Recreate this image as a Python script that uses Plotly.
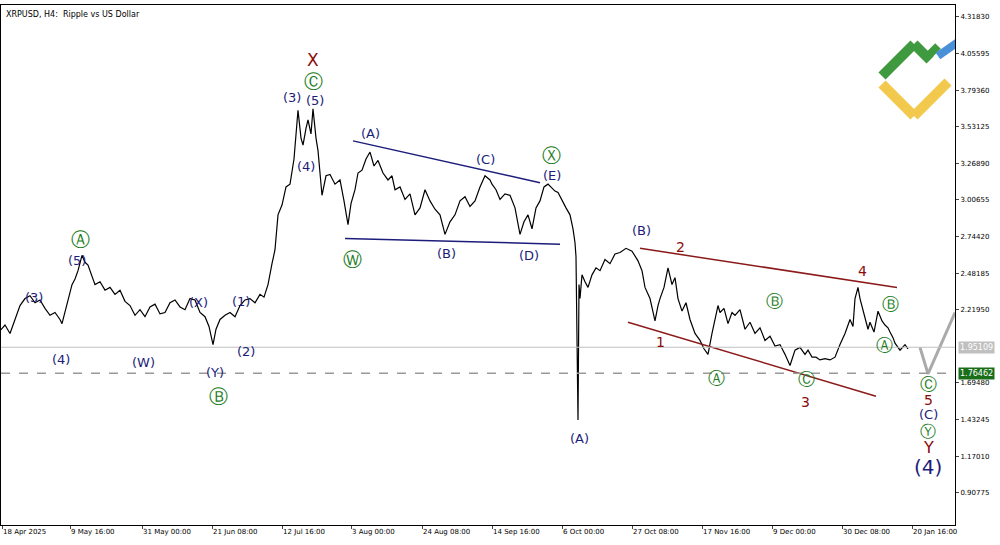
import plotly.graph_objects as go

# price path (x = bar position, y = price)
xs = [0,5,10,15,20,25,30,35,40,45,50,55,60,62,65,68,72,75,78,82,85,88,92,95,100,105,110,115,120,125,130,135,140,145,150,155,160,165,170,175,180,185,190,195,200,205,209,213,216,220,225,230,235,240,245,250,255,260,264,268,272,275,278,282,286,290,294,298,301,303,306,308,311,313,316,318,320,322,326,330,335,340,344,348,351,355,358,362,366,370,374,378,383,388,392,395,400,405,410,415,420,425,430,435,440,445,450,455,460,465,470,475,480,485,490,492,496,500,505,510,515,520,524,528,532,536,540,544,548,552,555,558,562,566,570,573,575,576,578,579,580,582,585,588,592,596,600,605,610,615,620,626,632,638,642,645,650,655,658,660,664,668,672,675,678,682,686,690,695,700,704,708,712,715,718,720,724,728,732,735,740,745,750,755,760,765,770,775,780,785,790,795,800,805,808,812,816,820,825,830,835,840,845,850,853,855,858,860,863,866,868,870,874,878,882,885,888,890,893,895,900,905,908,910,913,915,918,920]
prices = [2.07,2.11,2.05,2.15,2.25,2.30,2.32,2.27,2.29,2.23,2.18,2.20,2.15,2.12,2.20,2.30,2.40,2.44,2.50,2.61,2.56,2.54,2.45,2.40,2.42,2.36,2.38,2.33,2.36,2.28,2.25,2.18,2.22,2.17,2.24,2.26,2.19,2.20,2.27,2.29,2.24,2.22,2.30,2.29,2.20,2.17,2.10,1.97,2.08,2.15,2.18,2.20,2.17,2.25,2.29,2.30,2.27,2.33,2.31,2.40,2.55,2.65,2.90,2.97,3.10,3.12,3.30,3.65,3.45,3.40,3.52,3.58,3.48,3.66,3.45,3.36,3.20,3.04,3.18,3.19,3.12,3.15,3.00,2.83,2.98,3.08,3.20,3.22,3.30,3.35,3.25,3.29,3.20,3.15,3.18,3.08,3.10,3.01,3.05,2.90,2.95,3.08,3.00,2.94,2.90,2.76,2.85,2.90,3.00,3.03,2.96,3.00,3.10,3.18,3.15,3.12,3.08,3.01,3.05,3.04,2.95,2.76,2.85,2.90,2.80,2.95,3.00,3.10,3.12,3.09,3.07,3.06,3.00,2.95,2.90,2.80,2.70,2.60,1.43,2.40,2.30,2.47,2.42,2.38,2.47,2.52,2.50,2.58,2.55,2.62,2.63,2.66,2.64,2.57,2.50,2.38,2.30,2.14,2.25,2.30,2.38,2.52,2.40,2.45,2.30,2.21,2.27,2.15,2.05,2.00,1.94,1.90,2.05,2.15,2.25,2.20,2.23,2.12,2.20,2.18,2.22,2.08,2.13,2.05,2.09,2.00,2.03,1.96,1.97,1.90,1.82,1.93,1.95,1.90,1.93,1.88,1.88,1.86,1.87,1.86,1.88,1.97,2.05,2.15,2.10,2.30,2.38,2.30,2.22,2.12,2.08,2.13,2.06,2.21,2.14,2.11,2.09,2.06,2.02,1.98,1.93,1.97,1.94]

proj_x = [920, 928, 955]
proj_y = [1.95, 1.76, 2.20]

tick_pos = [2,70,142,212,282,351,422,492,562,632,702,772,842,912]
tick_text = ["18 Apr 2025","9 May 16:00","31 May 00:00","21 Jun 08:00","12 Jul 16:00","3 Aug 00:00",
             "24 Aug 08:00","14 Sep 16:00","6 Oct 00:00","27 Oct 08:00","17 Nov 16:00","9 Dec 00:00",
             "30 Dec 08:00","20 Jan 16:00"]
ytick_vals = [0.90775,1.17010,1.43245,1.69480,2.21950,2.48185,2.74420,3.00655,3.26890,3.53125,3.79360,4.05595,4.31830]

current_price = 1.95109
target_price = 1.76462

NAVY = "#1c1c7a"; GREEN = "#1e7d1e"; RED = "#8b0a0a"
C = 19  # circled label size
labels = [
    (313,4.007,"X",RED,17),(313,3.86,"Ⓒ",GREEN,C),
    (292,3.74,"(3)",NAVY,13),(315,3.72,"(5)",NAVY,13),(306,3.25,"(4)",NAVY,13),
    (80,2.73,"Ⓐ",GREEN,C),(77,2.57,"(5)",NAVY,13),(34,2.31,"(3)",NAVY,13),
    (61,1.86,"(4)",NAVY,13),(143,1.84,"(W)",NAVY,13),(198,2.27,"(X)",NAVY,13),
    (241,2.28,"(1)",NAVY,13),(246,1.92,"(2)",NAVY,13),(215,1.77,"(Y)",NAVY,13),
    (218,1.60,"Ⓑ",GREEN,C),
    (370,3.48,"(A)",NAVY,13),(485,3.30,"(C)",NAVY,13),(551,3.33,"Ⓧ",GREEN,C),
    (552,3.18,"(E)",NAVY,13),(352,2.58,"Ⓦ",GREEN,C),(446,2.62,"(B)",NAVY,13),
    (529,2.61,"(D)",NAVY,13),
    (579,1.30,"(A)",NAVY,13),(641,2.79,"(B)",NAVY,13),(680,2.67,"2",RED,14),
    (660,1.99,"1",RED,14),(716,1.73,"Ⓐ",GREEN,17),(774,2.28,"Ⓑ",GREEN,17),
    (806,1.72,"Ⓒ",GREEN,17),(805,1.56,"3",RED,14),(862,2.50,"4",RED,14),
    (890,2.26,"Ⓑ",GREEN,17),(884,1.97,"Ⓐ",GREEN,17),
    (928,1.69,"Ⓒ",GREEN,17),(928,1.575,"5",RED,14),(928,1.47,"(C)",NAVY,13),
    (928,1.35,"Ⓨ",GREEN,16),(928,1.235,"Y",RED,16),(928,1.09,"(4)",NAVY,20),
]

blue_lines = [((353,3.43),(540,3.13)), ((345,2.73),(560,2.69))]
red_lines = [((640,2.66),(897,2.38)), ((628,2.13),(876,1.60))]

fig = go.Figure()
fig.add_trace(go.Scatter(x=xs, y=prices, mode="lines", line=dict(color="black", width=1.2), hoverinfo="skip"))
fig.add_trace(go.Scatter(x=proj_x, y=proj_y, mode="lines", line=dict(color="#aaaaaa", width=3), hoverinfo="skip"))

for (a, b) in blue_lines:
    fig.add_shape(type="line", x0=a[0], y0=a[1], x1=b[0], y1=b[1], line=dict(color="#1c1c7a", width=1.5))
for (a, b) in red_lines:
    fig.add_shape(type="line", x0=a[0], y0=a[1], x1=b[0], y1=b[1], line=dict(color="#8b1a1a", width=1.5))

fig.add_hline(y=current_price, line=dict(color="#c0c0c0", width=1))
fig.add_hline(y=target_price, line=dict(color="#999999", width=1.3, dash="dash"))

for (x, y, t, c, s) in labels:
    fig.add_annotation(x=x, y=y, text=t, showarrow=False, font=dict(color=c, size=s, family="DejaVu Sans"))

fig.add_annotation(x=1.003, xref="paper", y=current_price, text="1.95109", showarrow=False, xanchor="left",
                   bgcolor="#c0c0c0", font=dict(color="white", size=8, family="DejaVu Sans"), borderpad=1)
fig.add_annotation(x=1.003, xref="paper", y=target_price, text="1.76462", showarrow=False, xanchor="left",
                   bgcolor="#1a6e1a", font=dict(color="white", size=8, family="DejaVu Sans"), borderpad=1)
fig.add_annotation(x=0.003, y=0.995, xref="paper", yref="paper", text="XRPUSD, H4:  Ripple vs US Dollar",
                   showarrow=False, xanchor="left", yanchor="top", font=dict(size=8, color="black", family="DejaVu Sans"))

# logo
def pline(x0, y0, x1, y1, c, w):
    fig.add_shape(type="line", xref="x", yref="paper", x0=x0, x1=x1,
                  y0=1 - (y0 - 5) / 520, y1=1 - (y1 - 5) / 520, line=dict(color=c, width=w))
pline(882, 76, 914, 44, "#3f9a3f", 10)
pline(914, 44, 930, 60, "#3f9a3f", 10)
pline(924, 60, 938, 46, "#3f9a3f", 8)
pline(938, 56, 958, 42, "#4a90d9", 8)
pline(882, 84, 914, 116, "#f2c94c", 10)
pline(914, 116, 948, 82, "#f2c94c", 10)

fig.update_layout(
    width=1000, height=545, margin=dict(l=1, r=45, t=5, b=20),
    plot_bgcolor="white", paper_bgcolor="white", showlegend=False,
    xaxis=dict(range=[1, 955], tickvals=tick_pos, ticktext=tick_text, showgrid=False, zeroline=False,
               showline=True, mirror=True, linecolor="black", ticks="outside", ticklen=3,
               ticklabelposition="outside right",
               tickfont=dict(size=7, family="DejaVu Sans", color="black")),
    yaxis=dict(range=[0.677, 4.404], side="right", tickvals=ytick_vals,
               ticktext=[f"{v:.5f}" for v in ytick_vals], showgrid=False, zeroline=False,
               showline=True, mirror=True, linecolor="black", ticks="outside", ticklen=3,
               tickfont=dict(size=7, family="DejaVu Sans", color="black")),
    font=dict(family="DejaVu Sans"),
)
fig.write_html("out.html", config={"displayModeBar": False},
               post_script="document.body.style.margin='0';document.body.style.overflow='hidden';")
